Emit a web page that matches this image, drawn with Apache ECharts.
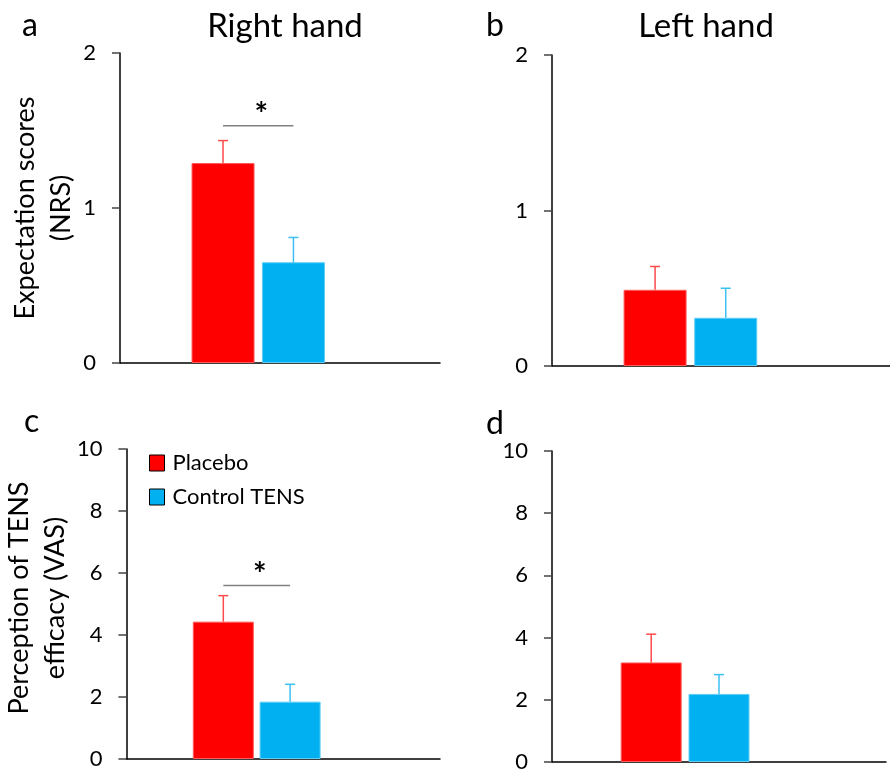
<!DOCTYPE html>
<html>
<head>
<meta charset="utf-8">
<script src="https://cdn.jsdelivr.net/npm/echarts@6/dist/echarts.min.js"></script>
<style>
html,body{margin:0;padding:0;background:#fff;}
#chart{width:890px;height:773px;}
</style>
</head>
<body>
<div id="chart"></div>
<script>
// ---- data ----
var groups = ['Placebo', 'Control TENS'];
var panels = ['a', 'b', 'c', 'd'];
var columnTitles = ['Right hand', 'Left hand'];
var expectationMeans = { right: [1.29, 0.65], left: [0.49, 0.31] };   // NRS
var expectationErr   = { right: [0.145, 0.16], left: [0.15, 0.19] };
var efficacyMeans    = { right: [4.43, 1.85], left: [3.2, 2.19] };    // VAS
var efficacyErr      = { right: [0.84, 0.56], left: [0.91, 0.62] };
var nrsTicks = [0, 1, 2];
var vasTicks = [0, 2, 4, 6, 8, 10];
var sigLevels = { a: 1.53, c: 5.6 };   // height of significance bracket (axis units)

// ---- layout / style ----
var FONT = 'Lato';
var barColors = ['#FF0000', '#00B0F0'];
var barBorder = ['#ff5a5a', '#5fcdf5'];
var errColors = ['#ff4a4a', '#3cbff2'];
var grids = [
  { left: 120, top: 53,  width: 320, height: 310 },
  { left: 552, top: 55,  width: 338, height: 311 },
  { left: 120, top: 449, width: 320, height: 310 },
  { left: 552, top: 451, width: 334, height: 311 }
];
// horizontal slot of each bar along the hidden 0..1 x axis of every panel
var slots = [[0.322, 0.542], [0.305, 0.514], [0.309, 0.522], [0.297, 0.500]];
var barWidths = [63, 63, 61, 61];

var panelMeans = [expectationMeans.right, expectationMeans.left, efficacyMeans.right, efficacyMeans.left];
var panelErr = [expectationErr.right, expectationErr.left, efficacyErr.right, efficacyErr.left];
var panelTicks = [nrsTicks, nrsTicks, vasTicks, vasTicks];

var xAxes = [], yAxes = [], series = [];
for (var i = 0; i < 4; i++) {
  xAxes.push({
    type: 'value', gridIndex: i, min: 0, max: 1,
    axisLine: { show: true, lineStyle: { color: '#000', width: 1.5 } },
    axisTick: { show: false }, axisLabel: { show: false }, splitLine: { show: false }
  });
  var t = panelTicks[i];
  var y = {
    type: 'value', gridIndex: i, min: t[0], max: t[t.length - 1], interval: t[1] - t[0],
    axisLine: { show: true, lineStyle: { color: '#000', width: 1.5 } },
    axisTick: { show: true, length: 8, lineStyle: { color: '#444', width: 1.5 } },
    axisLabel: { fontFamily: FONT, fontSize: 22, color: '#000', margin: 24 },
    splitLine: { show: false }
  };
  if (i === 0) {
    y.name = 'Expectation scores\n(NRS)';
  } else if (i === 2) {
    y.name = 'Perception of TENS\nefficacy (VAS)';
  }
  if (y.name) {
    y.nameLocation = 'middle';
    y.nameRotate = 90;
    y.nameGap = i === 2 ? 42 : 40;
    y.nameTextStyle = { fontFamily: FONT, fontSize: 27, color: '#000', lineHeight: 36,
      padding: i === 2 ? [0, 0, 0, 12] : 0 };
  }
  yAxes.push(y);

  for (var g = 0; g < 2; g++) {
    series.push({
      name: groups[g], type: 'bar', xAxisIndex: i, yAxisIndex: i,
      barWidth: barWidths[i], barGap: '-100%',
      itemStyle: { color: barColors[g], borderColor: barBorder[g], borderWidth: 1 },
      data: [[slots[i][g], panelMeans[i][g]]],
      z: 2
    });
  }
  // error bars
  series.push({
    type: 'custom', xAxisIndex: i, yAxisIndex: i, z: 3,
    data: [0, 1].map(function (g) { return [slots[i][g], panelMeans[i][g], panelErr[i][g]]; }),
    renderItem: function (params, api) {
      var x = api.value(0), v = api.value(1), e = api.value(2);
      var p0 = api.coord([x, v]), p1 = api.coord([x, v + e]);
      var c = errColors[params.dataIndex];
      var st = { stroke: c, lineWidth: 1.5 };
      return { type: 'group', children: [
        { type: 'line', shape: { x1: p0[0], y1: p0[1], x2: p1[0], y2: p1[1] }, style: st },
        { type: 'line', shape: { x1: p1[0] - 5, y1: p1[1], x2: p1[0] + 5, y2: p1[1] }, style: st }
      ]};
    }
  });
  var key = panels[i];
  if (sigLevels[key] !== undefined) {
    series.push({
      type: 'custom', xAxisIndex: i, yAxisIndex: i, z: 3,
      data: [[slots[i][0], slots[i][1], sigLevels[key]]],
      renderItem: function (params, api) {
        var a = api.coord([api.value(0), api.value(2)]);
        var b = api.coord([api.value(1), api.value(2)]);
        return { type: 'group', children: [
          { type: 'line', shape: { x1: a[0], y1: a[1], x2: b[0], y2: b[1] },
            style: { stroke: '#808080', lineWidth: 1.5 } },
          { type: 'text', x: (a[0] + b[0]) / 2 + 3, y: a[1] + 6,
            style: { text: '*', font: 'bold 32px ' + FONT, fill: '#000', align: 'center', verticalAlign: 'bottom' } }
        ]};
      }
    });
  }
}

function label(text, x, y, size, align) {
  return { type: 'text', x: x, y: y,
    style: { text: text, font: size + 'px ' + FONT, fill: '#000', align: align || 'left', verticalAlign: 'middle' } };
}

var chart = echarts.init(document.getElementById('chart'), null, { renderer: 'canvas' });
chart.setOption({
  animation: false,
  backgroundColor: '#fff',
  grid: grids,
  xAxis: xAxes,
  yAxis: yAxes,
  legend: {
    data: groups, orient: 'vertical', left: 149, top: 452, padding: 0,
    itemWidth: 15, itemHeight: 16, itemGap: 12, icon: 'rect',
    itemStyle: { borderColor: '#000', borderWidth: 1 },
    textStyle: { fontFamily: FONT, fontSize: 22, color: '#000', padding: [0, 0, 0, 3] },
    selectedMode: false
  },
  graphic: [
    label(columnTitles[0], 285, 26, 33, 'center'),
    label(columnTitles[1], 706, 26, 33, 'center'),
    label(panels[0], 22, 26, 32),
    label(panels[1], 486, 26, 32),
    label(panels[2], 24, 422, 32),
    label(panels[3], 486, 424, 32)
  ],
  series: series
});
</script>
</body>
</html>
